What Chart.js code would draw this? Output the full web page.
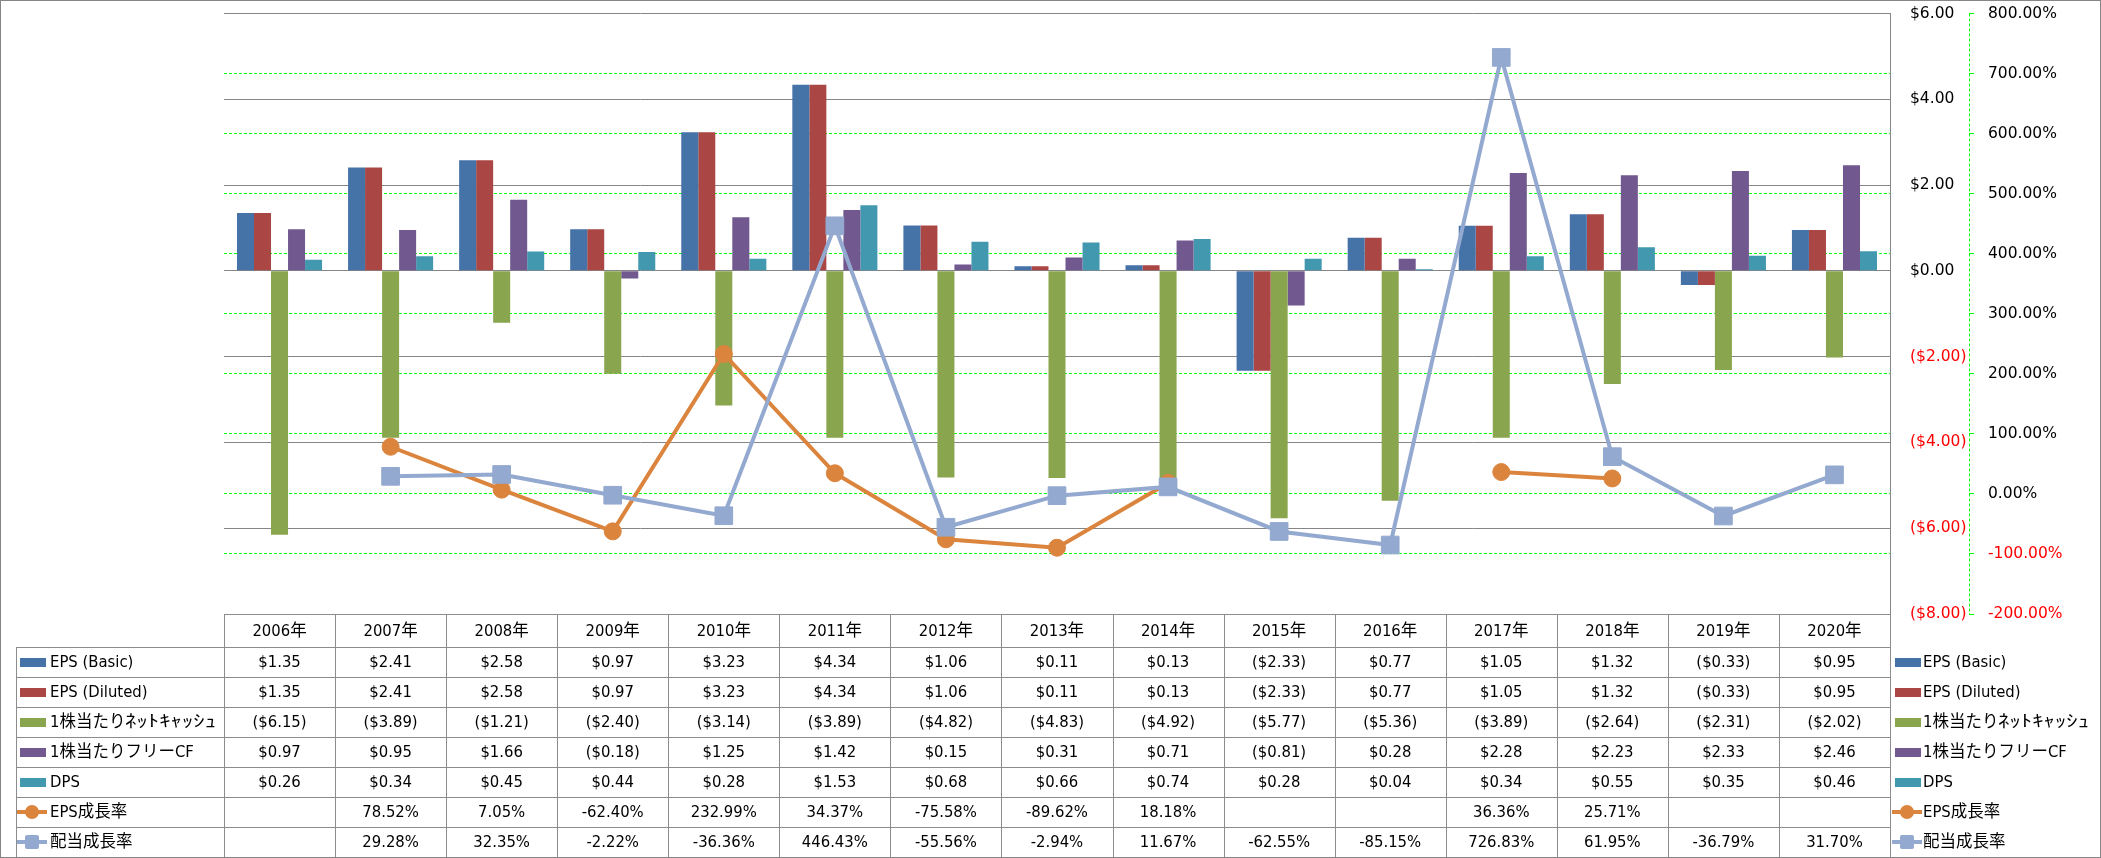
<!DOCTYPE html>
<html>
<head>
<meta charset="utf-8">
<script src="https://cdn.jsdelivr.net/npm/chart.js@4/dist/chart.umd.min.js"></script>
<style>
  html, body { margin: 0; padding: 0; background: #fff; }
  #wrap { position: relative; width: 2101px; height: 858px; overflow: hidden; }
  #chart { position: absolute; left: 0; top: 0; }
  #frame { position: absolute; left: 0; top: 0; width: 2101px; height: 858px; box-sizing: border-box; border: 1px solid #868686; pointer-events: none; }
  .ln { position: absolute; background: #8c8c8c; }
  .cell { position: absolute; text-align: center; white-space: nowrap; color: #000;
          font-family: 'DejaVu Sans Condensed', 'Noto Sans CJK JP', sans-serif; font-size: 16.5px; }
  .lab { text-align: left; }
  .kana { display: inline-block; transform-origin: 0 50%; transform: scaleX(1.38); }
  .sw { position: absolute; }
</style>
</head>
<body>
<div id="wrap">
  <canvas id="chart" width="2101" height="858"></canvas>
  <div id="table"></div>
  <div id="frame"></div>
</div>
<script>
// categories
const years = ['2006年', '2007年', '2008年', '2009年', '2010年', '2011年', '2012年', '2013年',
               '2014年', '2015年', '2016年', '2017年', '2018年', '2019年', '2020年'];

// per share values ($)
const epsBasic   = [1.35, 2.41, 2.58, 0.97, 3.23, 4.34, 1.06, 0.11, 0.13, -2.33, 0.77, 1.05, 1.32, -0.33, 0.95];
const epsDiluted = [1.35, 2.41, 2.58, 0.97, 3.23, 4.34, 1.06, 0.11, 0.13, -2.33, 0.77, 1.05, 1.32, -0.33, 0.95];
const netCash    = [-6.15, -3.89, -1.21, -2.40, -3.14, -3.89, -4.82, -4.83, -4.92, -5.77, -5.36, -3.89, -2.64, -2.31, -2.02];
const freeCF     = [0.97, 0.95, 1.66, -0.18, 1.25, 1.42, 0.15, 0.31, 0.71, -0.81, 0.28, 2.28, 2.23, 2.33, 2.46];
const dps        = [0.26, 0.34, 0.45, 0.44, 0.28, 1.53, 0.68, 0.66, 0.74, 0.28, 0.04, 0.34, 0.55, 0.35, 0.46];

// growth rates (%)
const epsGrowth = [null, 78.52, 7.05, -62.40, 232.99, 34.37, -75.58, -89.62, 18.18, null, null, 36.36, 25.71, null, null];
const divGrowth = [null, 29.28, 32.35, -2.22, -36.36, 446.43, -55.56, -2.94, 11.67, -62.55, -85.15, 726.83, 61.95, -36.79, 31.70];

const seriesNames = ['EPS (Basic)', 'EPS (Diluted)', '1株当たりﾈｯﾄｷｬｯｼｭ', '1株当たりフリーCF', 'DPS', 'EPS成長率', '配当成長率'];
const seriesColors = ['#4572A7', '#AA4643', '#89A54E', '#71588F', '#4198AF', '#DB843D', '#93A9CF'];

// axis ranges
const dollarAxis = { min: -8, max: 6, step: 2 };
const pctAxis = { min: -200, max: 800, step: 100 };

function money(v) {
    if (v === null || v === undefined) return '';
    return v < 0 ? '($' + Math.abs(v).toFixed(2) + ')' : '$' + v.toFixed(2);
}
function pct(v) {
    if (v === null || v === undefined) return '';
    return v.toFixed(2) + '%';
}

Chart.defaults.font.family = "'DejaVu Sans', sans-serif";
Chart.defaults.font.size = 15.5;
Chart.defaults.color = '#000';

// dashed green line for the percent axis
const dashedAxisLine = {
    id: 'dashedAxisLine',
    afterDraw(chart) {
        const s = chart.scales.y1;
        const ctx = chart.ctx;
        const x = Math.round(s.left) + 0.5;
        ctx.save();
        ctx.strokeStyle = '#00FF00';
        ctx.lineWidth = 1;
        ctx.setLineDash([3, 2]);
        ctx.beginPath();
        ctx.moveTo(x, s.top);
        ctx.lineTo(x, s.bottom);
        ctx.stroke();
        ctx.restore();
    }
};

// keep the label padding from pushing the plot down
function fixWidth(w) {
    return s => {
        s.width = w;
        s.paddingTop = 0;
        s.paddingBottom = 0;
    };
}

const barSeries = [epsBasic, epsDiluted, netCash, freeCF, dps];
const datasets = barSeries.map((d, i) => ({
    type: 'bar',
    label: seriesNames[i],
    data: d,
    backgroundColor: seriesColors[i],
    borderWidth: 0,
    yAxisID: 'y',
    order: 2
}));
datasets.push({
    type: 'line',
    label: seriesNames[5],
    data: epsGrowth,
    borderColor: seriesColors[5],
    backgroundColor: seriesColors[5],
    borderWidth: 4,
    pointStyle: 'circle',
    pointRadius: 8.5,
    pointBorderWidth: 1,
    tension: 0,
    yAxisID: 'y1',
    order: 1
});
datasets.push({
    type: 'line',
    label: seriesNames[6],
    data: divGrowth,
    borderColor: seriesColors[6],
    backgroundColor: seriesColors[6],
    borderWidth: 4,
    pointStyle: 'rect',
    pointRadius: 12.5,
    pointBorderWidth: 1,
    tension: 0,
    yAxisID: 'y1',
    order: 0
});

const chart = new Chart(document.getElementById('chart'), {
    data: { labels: years, datasets: datasets },
    options: {
        responsive: false,
        animation: false,
        layout: { padding: { left: 224, top: 11, bottom: 244, right: 0 } },
        datasets: { bar: { barPercentage: 1, categoryPercentage: 0.766 } },
        plugins: { legend: { display: false }, tooltip: { enabled: false } },
        scales: {
            x: { display: false },
            y: {
                type: 'linear',
                position: 'right',
                weight: 0,
                min: dollarAxis.min,
                max: dollarAxis.max,
                ticks: {
                    stepSize: dollarAxis.step,
                    padding: 20,
                    color: ctx => ctx.tick.value < 0 ? '#FF0000' : '#000000',
                    callback: v => money(v)
                },
                grid: { color: '#868686', drawTicks: false },
                border: { color: '#868686' },
                afterFit: fixWidth(79)
            },
            y1: {
                type: 'linear',
                position: 'right',
                weight: 1,
                min: pctAxis.min,
                max: pctAxis.max,
                ticks: {
                    stepSize: pctAxis.step,
                    padding: 14,
                    color: ctx => ctx.tick.value < 0 ? '#FF0000' : '#000000',
                    callback: v => pct(v)
                },
                grid: {
                    color: ctx => (ctx.tick && (ctx.tick.value === pctAxis.max || ctx.tick.value === pctAxis.min)) ? 'rgba(0,0,0,0)' : '#00FF00',
                    tickColor: '#00FF00',
                    tickLength: 5
                },
                border: { display: false, dash: [3, 2] },
                afterFit: fixWidth(132)
            }
        }
    },
    plugins: [dashedAxisLine]
});

// data table below the plot, placed from the chart's own x scale
function buildTable(chart) {
    const box = document.getElementById('table');
    const area = chart.chartArea;
    const xs = chart.scales.x;
    const colW = (area.right - area.left) / years.length;
    const headTop = area.bottom;
    const headH = 33;
    const rowH = 30;
    const labelLeft = 16;
    const tableBottom = headTop + headH + rowH * seriesNames.length;

    function add(cls, style, text) {
        const d = document.createElement('div');
        d.className = cls;
        Object.assign(d.style, style);
        if (text !== undefined) d.textContent = text;
        box.appendChild(d);
        return d;
    }
    function label(x, top, text) {
        const d = add('cell lab', { left: x + 'px', top: top + 'px', height: rowH + 'px', lineHeight: rowH + 'px' });
        // half-width katakana drawn a bit wider, like the original font
        text.split(/([\uFF61-\uFF9F]+)/).forEach(part => {
            if (!part) return;
            if (/^[\uFF61-\uFF9F]+$/.test(part)) {
                const s = document.createElement('span');
                s.className = 'kana';
                s.textContent = part;
                d.appendChild(s);
            } else {
                d.appendChild(document.createTextNode(part));
            }
        });
    }
    function hline(x1, x2, y) {
        add('ln', { left: x1 + 'px', top: Math.round(y) + 'px', width: (x2 - x1 + 1) + 'px', height: '1px' });
    }
    function vline(x, y1, y2) {
        add('ln', { left: Math.round(x) + 'px', top: Math.round(y1) + 'px', width: '1px', height: (y2 - y1) + 'px' });
    }

    // grid lines
    hline(Math.round(area.left), Math.round(area.right), headTop);
    for (let r = 0; r <= seriesNames.length; r++) {
        hline(labelLeft, Math.round(area.right), headTop + headH + r * rowH);
    }
    vline(labelLeft, headTop + headH, tableBottom);
    for (let c = 0; c <= years.length; c++) {
        vline(area.left + c * colW, headTop, tableBottom);
    }

    // header
    years.forEach((y, i) => {
        const cx = xs.getPixelForValue(i);
        add('cell', { left: (cx - colW / 2) + 'px', width: colW + 'px', top: headTop + 'px',
                      height: headH + 'px', lineHeight: headH + 'px' }, y);
    });

    const rows = [epsBasic, epsDiluted, netCash, freeCF, dps, epsGrowth, divGrowth];
    rows.forEach((vals, r) => {
        const top = headTop + headH + r * rowH;
        const fmt = r < 5 ? money : pct;
        vals.forEach((v, i) => {
            const cx = xs.getPixelForValue(i);
            add('cell', { left: (cx - colW / 2) + 'px', width: colW + 'px', top: top + 'px',
                          height: rowH + 'px', lineHeight: rowH + 'px' }, fmt(v));
        });
        // legend key inside the table and on the right
        legendKey(r, 20, top);
        label(50, top, seriesNames[r]);
        legendKey(r, area.right + 5, top);
        label(area.right + 33, top, seriesNames[r]);
    });

    function legendKey(r, x, top) {
        const cy = top + rowH / 2;
        const col = seriesColors[r];
        if (r < 5) {
            add('sw', { left: x + 'px', top: (cy - 4.5) + 'px', width: '26px', height: '9px', background: col });
        } else {
            add('sw', { left: (x - 3) + 'px', top: (cy - 2) + 'px', width: '30px', height: '4px', background: col });
            add('sw', { left: (x + 5) + 'px', top: (cy - 7) + 'px', width: '14px', height: '14px', background: col,
                        borderRadius: r === 5 ? '50%' : '2px' });
        }
    }
}
buildTable(chart);
</script>
</body>
</html>
